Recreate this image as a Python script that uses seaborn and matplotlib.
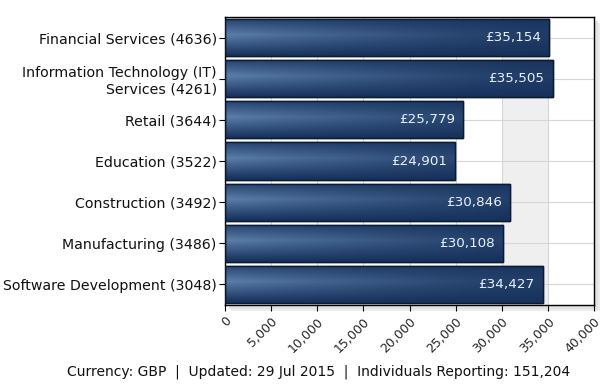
import numpy as np
import pandas as pd
import matplotlib
matplotlib.use("Agg")
import matplotlib.pyplot as plt
from matplotlib.path import Path
import seaborn as sns

categories = ["Financial Services (4636)", "Information Technology (IT)\nServices (4261)",
              "Retail (3644)", "Education (3522)", "Construction (3492)",
              "Manufacturing (3486)", "Software Development (3048)"]
salaries = [35154, 35505, 25779, 24901, 30846, 30108, 34427]
value_labels = ["£35,154", "£35,505", "£25,779", "£24,901", "£30,846", "£30,108", "£34,427"]
xticks = [0, 5000, 10000, 15000, 20000, 25000, 30000, 35000, 40000]
xtick_labels = ["0", "5,000", "10,000", "15,000", "20,000", "25,000", "30,000", "35,000", "40,000"]
footer = "Currency: GBP  |  Updated: 29 Jul 2015  |  Individuals Reporting: 151,204"

df = pd.DataFrame({"category": categories, "salary": salaries})

sns.set_theme(style="white")
plt.rcParams['font.family'] = ['DejaVu Sans']

W, Hh = 606, 385
L, R, T, B = 225, 594, 17, 305
fig = plt.figure(figsize=(W / 100, Hh / 100), dpi=100)
# soft drop shadow behind the plot area
for off, col in [(6, "#ececec"), (4, "#e2e2e2")]:
    sh = plt.Rectangle(((L + off) / W, 1 - (B + off) / Hh), (R - L) / W, (B - T) / Hh,
                       transform=fig.transFigure, facecolor=col, edgecolor="none", zorder=0)
    fig.patches.append(sh)
ax = fig.add_axes([L / W, 1 - B / Hh, (R - L) / W, (B - T) / Hh])
ax.set_zorder(1)
ax.patch.set_facecolor("white")

sns.barplot(data=df, x="salary", y="category", ax=ax, color="#1f3d6c",
            width=0.9, edgecolor="#0b1a33", linewidth=1.0, saturation=1, zorder=2)
bars = list(ax.patches)

ax.axvspan(30000, 35000, color="#efefef", zorder=0.2, lw=0)
for t in xticks[1:-1]:
    ax.axvline(t, color="#d6d6d6", lw=0.8, zorder=0.5)
for i in range(len(categories)):
    ax.axhline(i, color="#d6d6d6", lw=0.8, zorder=0.5)

ax.set_xlim(0, 40000)
ax.set_ylim(len(categories) - 0.5, -0.5)

# one gradient image over the axes, clipped to the union of the bars
paths = [p.get_path().transformed(p.get_patch_transform()) for p in bars]
clip = Path.make_compound_path(*paths)
nx, ny = 400, 700
xs = np.linspace(0, 40000, nx)
ys = np.linspace(-0.5, len(categories) - 0.5, ny)
X, Y = np.meshgrid(xs, ys)
frac = (Y - np.round(Y) + 0.45) / 0.9
vert = np.clip(1 - np.abs(frac - 0.42) * 1.8, 0, 1)
hor = np.clip(1 - X / 36000, 0, 1)
mix = np.clip(0.75 * hor ** 1.4 * vert + 0.12 * vert, 0, 1)
light = np.array([0x66, 0x8a, 0xb6]) / 255
dark = np.array([0x16, 0x31, 0x5c]) / 255
img = dark[None, None, :] * (1 - mix[..., None]) + light[None, None, :] * mix[..., None]
im = ax.imshow(img, extent=[0, 40000, len(categories) - 0.5, -0.5], origin="upper",
               aspect="auto", zorder=2.5, interpolation="bilinear")
im.set_clip_path(clip, ax.transData)
for p in bars:
    edge = plt.Rectangle((p.get_x(), p.get_y()), p.get_width(), p.get_height(),
                         fill=False, edgecolor="#0b1a33", lw=1.0, zorder=3)
    ax.add_patch(edge)

for i, (v, lab) in enumerate(zip(salaries, value_labels)):
    ax.annotate(lab, (v, i), xytext=(-8, 0), textcoords="offset pixels",
                ha="right", va="center", color="#e8f0fa", fontsize=9.7, zorder=4)

ax.set_xlim(0, 40000)
ax.set_ylim(len(categories) - 0.5, -0.5)
ax.set_xticks(xticks)
ax.set_xticklabels(xtick_labels, rotation=45, ha="right", rotation_mode="anchor", fontsize=9)
ax.set_yticks(range(len(categories)))
ax.set_yticklabels(categories, fontsize=10.2, color="#111111")
for lab in ax.get_yticklabels():
    lab.set_multialignment("right")
ax.set_xlabel("")
ax.set_ylabel("")
ax.tick_params(axis="both", which="both", length=4, width=0.8, color="black", direction="out",
               bottom=True, left=True, pad=2)
ax.tick_params(axis="x", pad=3)
for s in ax.spines.values():
    s.set_color("black")
    s.set_linewidth(1.0)
    s.set_visible(True)

fig.text(319 / W, 1 - 372 / Hh, footer, ha="center", va="center", fontsize=10, color="#111111")

fig.savefig("out.png", dpi=100)
